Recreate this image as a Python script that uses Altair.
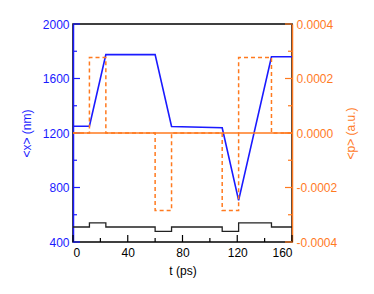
import altair as alt
import pandas as pd

BLUE = "#1a1aff"
ORANGE = "#ff7a1f"

# <x>(t) in nm
t_x = [0, 12, 24, 60, 72, 109, 121, 145, 160]
x_nm = [1250, 1250, 1775, 1775, 1248, 1238, 705, 1760, 1760]

# <p>(t) step (a.u.)
t_p = [0, 12, 12, 24, 24, 60, 60, 72, 72, 109, 109, 121, 121, 145, 145, 160]
p_au = [0, 0, 0.000277, 0.000277, 0, 0, -0.000284, -0.000284, 0, 0,
        -0.000284, -0.000284, 0.000277, 0.000277, 0, 0]

# pulse indicator (drawn on nm scale)
t_v = [0, 12, 12, 24, 24, 60, 60, 72, 72, 109, 109, 121, 121, 145, 145, 160]
v_nm = [510, 510, 540, 540, 510, 510, 478, 478, 510, 510, 478, 478, 540, 540, 510, 510]

# zero momentum reference line
t_zero = [0, 160]
p_zero = [0, 0]

x_ticks_major = [0, 40, 80, 120, 160]
x_ticks_minor = [20, 60, 100, 140]
yl_major = [400, 800, 1200, 1600, 2000]
yl_minor = [600, 1000, 1400, 1800]
yr_major = [-0.0004, -0.0002, 0.0, 0.0002, 0.0004]
yr_minor = [-0.0003, -0.0001, 0.0001, 0.0003]

W, H = 219, 218
MAJ, MIN = 7, 4

df_x = pd.DataFrame({"t": t_x, "x": x_nm, "i": range(len(t_x))})
df_p = pd.DataFrame({"t": t_p, "p": p_au, "i": range(len(t_p))})
df_v = pd.DataFrame({"t": t_v, "x": v_nm, "i": range(len(t_v))})
df_z = pd.DataFrame({"t": t_zero, "p": p_zero})

xscale = alt.Scale(domain=[0, 160], nice=False, zero=False)
lscale = alt.Scale(domain=[400, 2000], nice=False, zero=False)
rscale = alt.Scale(domain=[-0.0004, 0.0004], nice=False, zero=False)

xaxis = alt.Axis(values=x_ticks_major, ticks=False, domain=False, grid=False,
                 labelFontSize=12, labelColor="black", labelPadding=5,
                 title="t (ps)", titleFontSize=12, titleFontWeight="normal",
                 titleColor="black", titleX=W / 2, titleY=28,
                 titleBaseline="middle", titleAlign="center")

X = alt.X("t:Q", scale=xscale, axis=xaxis)

left_axis = alt.Axis(orient="left", values=yl_major, format="d", ticks=False,
                     grid=False, domainColor=BLUE, domainWidth=1.5,
                     labelColor=BLUE, labelFontSize=12, labelPadding=4,
                     title="<x> (nm)", titleColor=BLUE, titleFontSize=12,
                     titleFontWeight="normal", titleAngle=-90,
                     titleX=-47, titleY=H / 2, titleBaseline="middle",
                     titleAlign="center")
right_axis = alt.Axis(orient="right", values=yr_major, format=".4f", ticks=False,
                      grid=False, domainColor=ORANGE, domainWidth=1.5,
                      labelColor=ORANGE, labelFontSize=12, labelPadding=4,
                      labelExpr="replace(datum.label, '\u2212', '-')",
                      title="<p> (a.u.)", titleColor=ORANGE, titleFontSize=12,
                      titleFontWeight="normal", titleAngle=-90,
                      titleX=58, titleY=H / 2, titleBaseline="middle",
                      titleAlign="center")

blue_line = alt.Chart(df_x).mark_line(color=BLUE, strokeWidth=1.6).encode(
    x=X, y=alt.Y("x:Q", scale=lscale, axis=left_axis), order="i:Q")
black_line = alt.Chart(df_v).mark_line(color="#222222", strokeWidth=1.3).encode(
    x=X, y=alt.Y("x:Q", scale=lscale, axis=left_axis), order="i:Q")

lt_maj = alt.Chart(pd.DataFrame({"v": yl_major})).mark_rule(color=BLUE, strokeWidth=1.2).encode(
    y=alt.Y("v:Q", scale=lscale, axis=left_axis), x=alt.value(0), x2=alt.value(MAJ))
lt_min = alt.Chart(pd.DataFrame({"v": yl_minor})).mark_rule(color=BLUE, strokeWidth=1.2).encode(
    y=alt.Y("v:Q", scale=lscale, axis=left_axis), x=alt.value(0), x2=alt.value(MIN))
bt_maj = alt.Chart(pd.DataFrame({"t": x_ticks_major})).mark_rule(color="black", strokeWidth=1.2).encode(
    x=X, y=alt.value(H), y2=alt.value(H - MAJ))
bt_min = alt.Chart(pd.DataFrame({"t": x_ticks_minor})).mark_rule(color="black", strokeWidth=1.2).encode(
    x=X, y=alt.value(H), y2=alt.value(H - MIN))

left = alt.layer(blue_line, black_line, lt_maj, lt_min, bt_maj, bt_min)

zero_line = alt.Chart(df_z).mark_line(color=ORANGE, strokeWidth=1.6).encode(
    x=X, y=alt.Y("p:Q", scale=rscale, axis=right_axis))
p_line = alt.Chart(df_p).mark_line(color=ORANGE, strokeWidth=1.5, strokeDash=[4, 3]).encode(
    x=X, y=alt.Y("p:Q", scale=rscale, axis=right_axis), order="i:Q")
rt_maj = alt.Chart(pd.DataFrame({"v": yr_major})).mark_rule(color=ORANGE, strokeWidth=1.2).encode(
    y=alt.Y("v:Q", scale=rscale, axis=right_axis), x=alt.value(W - MAJ), x2=alt.value(W))
rt_min = alt.Chart(pd.DataFrame({"v": yr_minor})).mark_rule(color=ORANGE, strokeWidth=1.2).encode(
    y=alt.Y("v:Q", scale=rscale, axis=right_axis), x=alt.value(W - MIN), x2=alt.value(W))

right = alt.layer(zero_line, p_line, rt_maj, rt_min)

chart = alt.layer(left, right).resolve_scale(y="independent").properties(
    width=W, height=H,
    autosize=alt.AutoSizeParams(type="none"),
    padding={"left": 65, "top": 16, "right": 74, "bottom": 44},
).configure(font="Liberation Sans").configure_view(
    stroke="black", strokeWidth=1.5
).configure_axis(labelFont="Liberation Sans", titleFont="Liberation Sans")

chart.save("out.html", embed_options={"renderer": "svg", "actions": False})
